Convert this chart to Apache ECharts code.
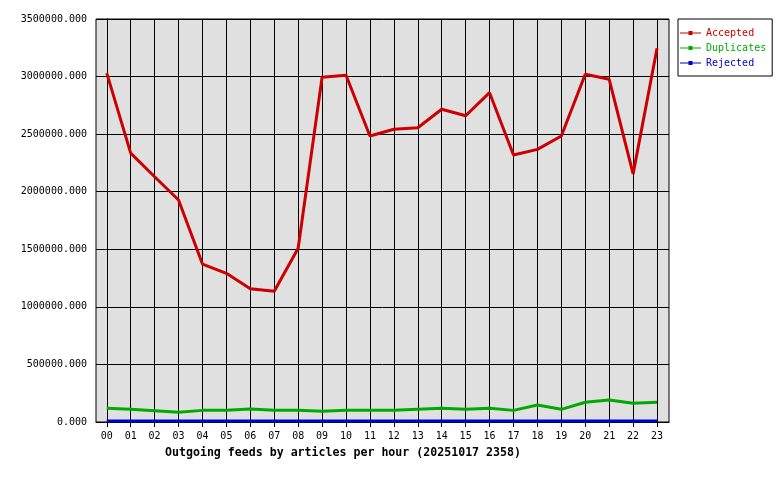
<!DOCTYPE html>
<html><head><meta charset="utf-8">
<script src="https://cdn.jsdelivr.net/npm/echarts@6/dist/echarts.min.js"></script>
<style>html,body{margin:0;padding:0;background:#fff}#c{width:780px;height:480px}</style>
</head><body><div id="c"></div>
<script>
const hours = ['00','01','02','03','04','05','06','07','08','09','10','11','12','13','14','15','16','17','18','19','20','21','22','23'];
const accepted = [3030000,2335000,2130000,1928000,1372000,1291000,1158000,1135000,1509000,2994000,3011000,2484000,2542000,2556000,2716000,2660000,2860000,2319000,2368000,2484000,3020000,2976000,2155000,3246000];
const duplicates = [119000,110000,98000,84000,101000,101000,113000,101000,101000,93000,101000,101000,101000,110000,119000,110000,119000,101000,148000,110000,171000,191000,162000,171000];
const rejected = [9000,9000,9000,9000,9000,9000,9000,9000,9000,9000,9000,9000,9000,9000,9000,9000,9000,9000,9000,9000,9000,9000,9000,9000];
const titleText = 'Outgoing feeds by articles per hour (20251017 2358)';
const font = 'DejaVu Sans Mono';
const idx = hours.map((h,i)=>i);
const chart = echarts.init(document.getElementById('c'), null, {renderer:'canvas'});
const legendIcon = 'path://M0,4.5L21,4.5L21,5.5L0,5.5Z M8.5,3L12.5,3L12.5,7L8.5,7Z';
function mk(name, data, color){
  return {name, type:'line', data: data.map((v,i)=>[idx[i], v]), showSymbol:false, symbol:'none',
    lineStyle:{color, width:3}, itemStyle:{color}, animation:false};
}
chart.setOption({
  animation:false,
  backgroundColor:'#ffffff',
  title:{text:titleText, left:160, top:442, textStyle:{fontFamily:font, fontSize:11.6, fontWeight:'bold', color:'#000'}},
  legend:{orient:'vertical', left:678, top:19, padding:[9,6,8,2], itemGap:5, itemWidth:21, itemHeight:10,
    borderColor:'#000', borderWidth:1, backgroundColor:'#fff',
    textStyle:{fontFamily:font, fontSize:10},
    data:[{name:'Accepted', icon:legendIcon, textStyle:{color:'#cc0000'}},{name:'Duplicates', icon:legendIcon, textStyle:{color:'#00aa00'}},{name:'Rejected', icon:legendIcon, textStyle:{color:'#0000cc'}}]},
  grid:{left:96, right:111, top:19, bottom:58, show:true, backgroundColor:'#e0e0e0', borderColor:'#000', borderWidth:1},
  xAxis:{type:'value', min:-0.45, max:23.5,
    axisLine:{show:true, onZero:false, lineStyle:{color:'#000', width:1}},
    axisTick:{show:true, length:5, lineStyle:{color:'#000'}, customValues:idx},
    axisLabel:{fontFamily:font, fontSize:10, color:'#000', margin:9, customValues:idx, formatter:v=>hours[Math.round(v)]},
    splitLine:{show:true, lineStyle:{color:'#000', width:1}}},
  yAxis:{type:'value', min:0, max:3500000, interval:500000,
    axisLine:{show:true, lineStyle:{color:'#000'}},
    axisTick:{show:true, length:6, lineStyle:{color:'#000'}},
    axisLabel:{fontFamily:font, fontSize:10, color:'#000', margin:9, formatter:v=>v.toFixed(3)},
    splitLine:{show:true, lineStyle:{color:'#000', width:1}}},
  series:[mk('Accepted', accepted, '#cc0000'), mk('Duplicates', duplicates, '#00aa00'), mk('Rejected', rejected, '#0000cc')]
});
</script></body></html>
